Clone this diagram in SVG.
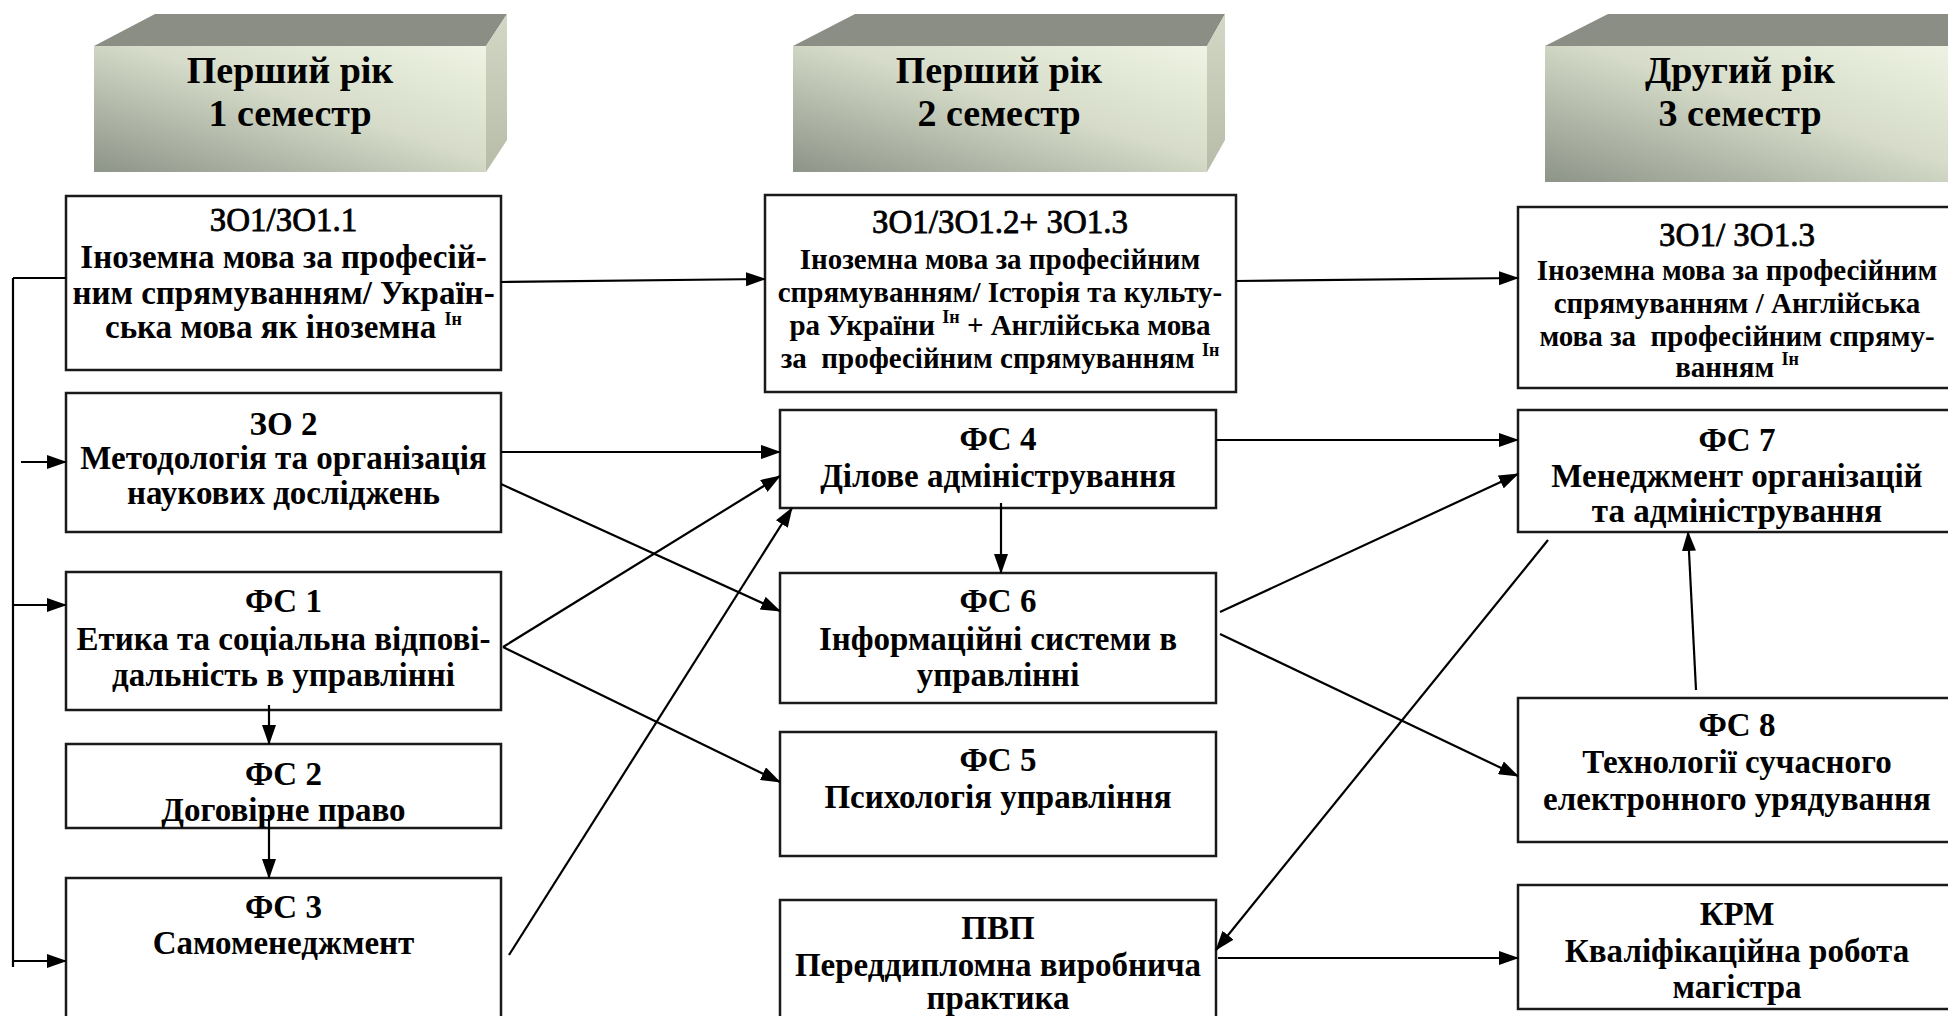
<svg xmlns="http://www.w3.org/2000/svg" width="1948" height="1016" viewBox="0 0 1948 1016">
<defs>
  <linearGradient id="gFront" x1="0" y1="1" x2="1" y2="0">
    <stop offset="0" stop-color="#8d9488"/>
    <stop offset="0.55" stop-color="#d6dcc9"/>
    <stop offset="1" stop-color="#eef3e3"/>
  </linearGradient>
  <linearGradient id="gSide" x1="0" y1="0" x2="0" y2="1">
    <stop offset="0" stop-color="#d2d8c5"/>
    <stop offset="1" stop-color="#b7bca8"/>
  </linearGradient>
  <marker id="ah" markerUnits="userSpaceOnUse" markerWidth="20" markerHeight="14" refX="19" refY="7" orient="auto">
    <path d="M0,0 L20,7 L0,14 Z" fill="#000"/>
  </marker>
</defs>
<style>
  .box{fill:#fff;stroke:#1a1a1a;stroke-width:2.5}
  .t{font-family:"Liberation Serif","Times New Roman",serif;font-weight:bold;font-size:33px;text-anchor:middle;fill:#000}
  .h{font-size:38px}
  .r{font-weight:normal;stroke:#000;stroke-width:0.8}
  .s{font-size:29px}
  .sup{font-size:18px}
  .top{fill:#8b8e85}
  .conn path{stroke:#000;stroke-width:2.2;fill:none}
  .arr{marker-end:url(#ah)}
</style>
<rect width="1948" height="1016" fill="#fff"/>

<g id="header1">
  <polygon class="top" points="94,46 155,14 507,14 486,46"/>
  <polygon fill="url(#gSide)" points="486,46 507,14 507,140 486,172"/>
  <rect x="94" y="46" width="392" height="126" fill="url(#gFront)"/>
  <text class="t h" x="290" y="83">Перший рік</text>
  <text class="t h" x="290" y="126">1 семестр</text>
</g>
<g id="header2">
  <polygon class="top" points="793,46 855,14 1225,14 1207,46"/>
  <polygon fill="url(#gSide)" points="1207,46 1225,14 1225,140 1207,172"/>
  <rect x="793" y="46" width="414" height="126" fill="url(#gFront)"/>
  <text class="t h" x="999" y="83">Перший рік</text>
  <text class="t h" x="999" y="126">2 семестр</text>
</g>
<g id="header3">
  <polygon class="top" points="1545,46 1608,14 1960,14 1960,46"/>
  <rect x="1545" y="46" width="420" height="136" fill="url(#gFront)"/>
  <text class="t h" x="1740" y="83">Другий рік</text>
  <text class="t h" x="1740" y="126">3 семестр</text>
</g>

<g id="zo1">
  <rect class="box" x="66" y="196" width="435" height="174"/>
  <text class="t r" x="283.5" y="231">ЗО1/ЗО1.1</text>
  <text class="t" x="283.5" y="268">Іноземна мова за професій-</text>
  <text class="t" x="283.5" y="304">ним спрямуванням/ Україн-</text>
  <text class="t" x="283.5" y="338">ська мова як іноземна <tspan class="sup" dy="-13">Ін</tspan></text>
</g>
<g id="zo2">
  <rect class="box" x="66" y="393" width="435" height="139"/>
  <text class="t" x="283.5" y="435">ЗО 2</text>
  <text class="t" x="283.5" y="469">Методологія та організація</text>
  <text class="t" x="283.5" y="504">наукових досліджень</text>
</g>
<g id="fs1">
  <rect class="box" x="66" y="572" width="435" height="138"/>
  <text class="t" x="283.5" y="612">ФС 1</text>
  <text class="t" x="283.5" y="650">Етика та соціальна відпові-</text>
  <text class="t" x="283.5" y="686">дальність в управлінні</text>
</g>
<g id="fs2">
  <rect class="box" x="66" y="744" width="435" height="84"/>
  <text class="t" x="283.5" y="785">ФС 2</text>
  <text class="t" x="283.5" y="821">Договірне право</text>
</g>
<g id="fs3">
  <rect class="box" x="66" y="878" width="435" height="162"/>
  <text class="t" x="283.5" y="918">ФС 3</text>
  <text class="t" x="283.5" y="954">Самоменеджмент</text>
</g>

<g id="zo1-2">
  <rect class="box" x="765" y="195" width="471" height="197"/>
  <text class="t r" x="1000" y="233" font-size="35">ЗО1/ЗО1.2+ ЗО1.3</text>
  <text class="t s" x="1000" y="269">Іноземна мова за професійним</text>
  <text class="t s" x="1000" y="302">спрямуванням/ Історія та культу-</text>
  <text class="t s" x="1000" y="335">ра України <tspan class="sup" dy="-12">Ін</tspan><tspan dy="12"> + Англійська мова</tspan></text>
  <text class="t s" x="1000" y="368">за&#160; професійним спрямуванням <tspan class="sup" dy="-12">Ін</tspan></text>
</g>
<g id="fs4">
  <rect class="box" x="780" y="410" width="436" height="98"/>
  <text class="t" x="998" y="450">ФС 4</text>
  <text class="t" x="998" y="487">Ділове адміністрування</text>
</g>
<g id="fs6">
  <rect class="box" x="780" y="573" width="436" height="130"/>
  <text class="t" x="998" y="612">ФС 6</text>
  <text class="t" x="998" y="650">Інформаційні системи в</text>
  <text class="t" x="998" y="686">управлінні</text>
</g>
<g id="fs5">
  <rect class="box" x="780" y="732" width="436" height="124"/>
  <text class="t" x="998" y="771">ФС 5</text>
  <text class="t" x="998" y="808">Психологія управління</text>
</g>
<g id="pvp">
  <rect class="box" x="780" y="900" width="436" height="140"/>
  <text class="t" x="998" y="939">ПВП</text>
  <text class="t" x="998" y="976">Переддипломна виробнича</text>
  <text class="t" x="998" y="1009">практика</text>
</g>

<g id="zo1-3">
  <rect class="box" x="1518" y="207" width="450" height="181"/>
  <text class="t r" x="1737" y="246" font-size="32">ЗО1/ ЗО1.3</text>
  <text class="t s" x="1737" y="280">Іноземна мова за професійним</text>
  <text class="t s" x="1737" y="313">спрямуванням / Англійська</text>
  <text class="t s" x="1737" y="346">мова за&#160; професійним спряму-</text>
  <text class="t s" x="1737" y="377">ванням <tspan class="sup" dy="-12">Ін</tspan></text>
</g>
<g id="fs7">
  <rect class="box" x="1518" y="410" width="450" height="122"/>
  <text class="t" x="1737" y="451">ФС 7</text>
  <text class="t" x="1737" y="487">Менеджмент організацій</text>
  <text class="t" x="1737" y="522">та адміністрування</text>
</g>
<g id="fs8">
  <rect class="box" x="1518" y="698" width="450" height="144"/>
  <text class="t" x="1737" y="736">ФС 8</text>
  <text class="t" x="1737" y="773">Технології сучасного</text>
  <text class="t" x="1737" y="810">електронного урядування</text>
</g>
<g id="krm">
  <rect class="box" x="1518" y="885" width="450" height="124"/>
  <text class="t" x="1737" y="925">КРМ</text>
  <text class="t" x="1737" y="962">Кваліфікаційна робота</text>
  <text class="t" x="1737" y="998">магістра</text>
</g>

<g id="connectors" class="conn">
  <path d="M13,278 V967"/>
  <path d="M13,278 H66"/>
  <path class="arr" d="M21,462 H66"/>
  <path class="arr" d="M13,605 H66"/>
  <path class="arr" d="M13,961 H66"/>
  <path class="arr" d="M501,282 L765,279"/>
  <path class="arr" d="M1236,281 L1518,278"/>
  <path class="arr" d="M501,452 L780,452"/>
  <path class="arr" d="M501,484 L780,611"/>
  <path class="arr" d="M503,647 L780,476"/>
  <path class="arr" d="M503,647 L780,782"/>
  <path class="arr" d="M509,955 L792,508"/>
  <path class="arr" d="M269,705 V744"/>
  <path class="arr" d="M269,815 V878"/>
  <path class="arr" d="M1001,503 V573"/>
  <path class="arr" d="M1216,440 L1518,440"/>
  <path class="arr" d="M1220,612 L1518,474"/>
  <path class="arr" d="M1220,634 L1518,776"/>
  <path class="arr" d="M1548,540 L1216,950"/>
  <path class="arr" d="M1218,958 L1518,958"/>
  <path class="arr" d="M1696,690 L1688,532"/>
</g>
</svg>
